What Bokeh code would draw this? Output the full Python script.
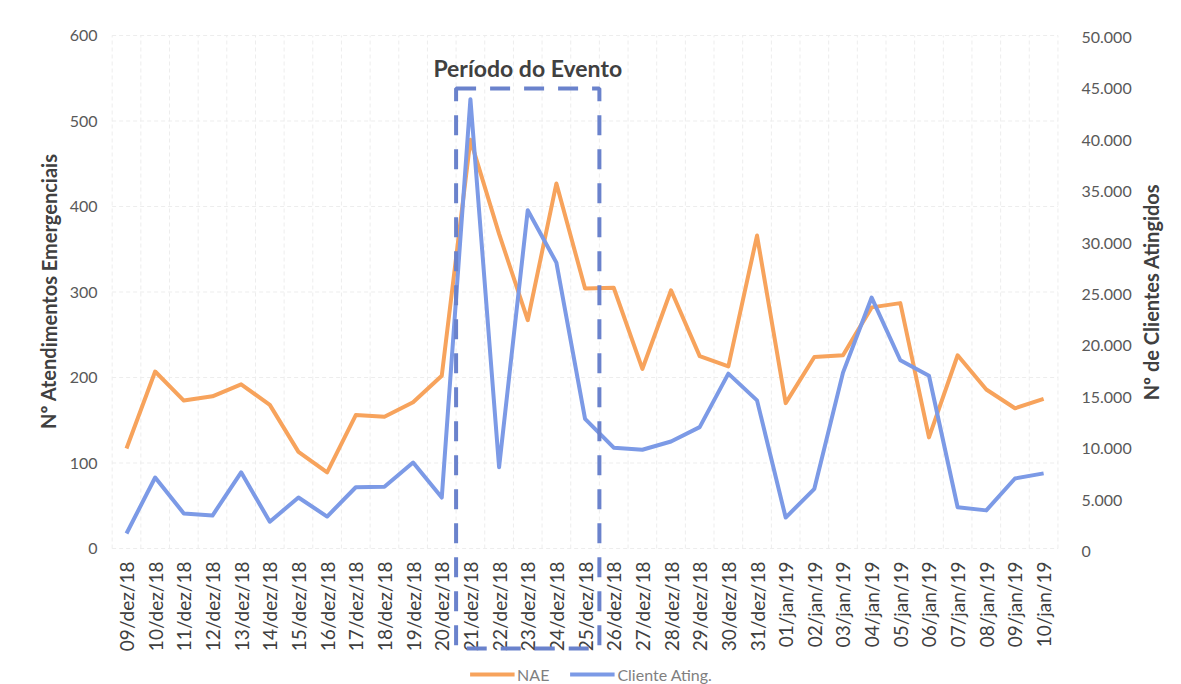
from bokeh.plotting import figure
from bokeh.models import (Range1d, LinearAxis, FixedTicker, Label, PolyAnnotation,
                          Legend, LegendItem)
from bokeh.embed import file_html
from bokeh.resources import INLINE

dates = ["09/dez/18", "10/dez/18", "11/dez/18", "12/dez/18", "13/dez/18", "14/dez/18",
         "15/dez/18", "16/dez/18", "17/dez/18", "18/dez/18", "19/dez/18", "20/dez/18",
         "21/dez/18", "22/dez/18", "23/dez/18", "24/dez/18", "25/dez/18", "26/dez/18",
         "27/dez/18", "28/dez/18", "29/dez/18", "30/dez/18", "31/dez/18", "01/jan/19",
         "02/jan/19", "03/jan/19", "04/jan/19", "05/jan/19", "06/jan/19", "07/jan/19",
         "08/jan/19", "09/jan/19", "10/jan/19"]
nae = [117, 207, 173, 178, 192, 168, 113, 89, 156, 154, 171, 202,
       478, 368, 267, 427, 304, 305, 210, 302, 225, 213, 366, 170,
       224, 226, 282, 287, 130, 226, 186, 164, 175]
clientes = [1750, 7200, 3700, 3500, 7700, 2900, 5250, 3400, 6250, 6300, 8650, 5250,
            44000, 8200, 33200, 28100, 12900, 10100, 9900, 10700, 12100, 17300, 14700, 3300,
            6100, 17400, 24700, 18600, 17100, 4300, 4000, 7100, 7600]
left_ticks = [0, 100, 200, 300, 400, 500, 600]
right_ticks = [0, 5000, 10000, 15000, 20000, 25000, 30000, 35000, 40000, 45000, 50000]
event_start, event_end = "21/dez/18", "25/dez/18"

FONT = "Lato"
n = len(dates)
x = list(range(n))
W, H = 1181, 684

# The frame covers the whole canvas; ranges are chosen so the data area sits
# where the reference has it, and the axes use negative standoffs.
XSC = 28.66                 # px per category
XL = -126 / XSC
XR = XL + W / XSC
YSC = 0.855                 # px per unit, left axis (0 at y=548)
YT, YB = 600 + 35 / YSC, -(H - 548) / YSC
RSC = 514 / 50000           # px per unit, right axis (0 at y=551)
RT, RB = 50000 + 37 / RSC, -(H - 551) / RSC

p = figure(width=W, height=H, output_backend="svg", toolbar_location=None,
           x_range=Range1d(XL, XR), y_range=Range1d(YB, YT),
           min_border_left=0, min_border_right=0, min_border_top=0,
           min_border_bottom=0)
p.extra_y_ranges = {"cli": Range1d(RB, RT)}
p.outline_line_color = None
p.background_fill_color = "white"
p.border_fill_color = "white"
p.xgrid.visible = False
p.ygrid.visible = False

# faint grid inside the data area
bounds = [i - 0.5 for i in range(n + 1)]
p.segment(x0=bounds, x1=bounds, y0=[0] * len(bounds), y1=[600] * len(bounds),
          line_color="#ededed", line_width=1, line_dash="4 3")
p.segment(x0=[-0.5] * len(left_ticks), x1=[n - 0.5] * len(left_ticks),
          y0=left_ticks, y1=left_ticks, line_color="#ededed", line_width=1,
          line_dash="4 3")

# x axis
xa = p.xaxis[0]
xa.ticker = FixedTicker(ticks=x)
xa.major_label_overrides = {i: d for i, d in enumerate(dates)}
xa.major_label_orientation = 1.5707963
xa.major_label_text_font = FONT
xa.major_label_text_font_size = "19px"
xa.major_label_text_color = "#404040"
xa.major_label_standoff = -129
xa.axis_line_color = None
xa.major_tick_line_color = None
xa.minor_tick_line_color = None

# left axis
ya = p.yaxis[0]
ya.ticker = FixedTicker(ticks=left_ticks)
ya.major_label_text_font = FONT
ya.major_label_text_font_size = "16px"
ya.major_label_text_color = "#595959"
ya.major_label_standoff = -103
ya.axis_line_color = None
ya.major_tick_line_color = None
ya.minor_tick_line_color = None

# right axis
ra = LinearAxis(y_range_name="cli")
ra.ticker = FixedTicker(ticks=right_ticks)
ra.major_label_overrides = {v: f"{v:,}".replace(",", ".") for v in right_ticks}
ra.major_label_text_font = FONT
ra.major_label_text_font_size = "16px"
ra.major_label_text_color = "#595959"
ra.major_label_standoff = -106
ra.axis_line_color = None
ra.major_tick_line_color = None
ra.minor_tick_line_color = None
p.add_layout(ra, "right")

r_nae = p.line(x, nae, line_color="#f7a35c", line_width=4, line_join="round")
r_cli = p.line(x, clientes, y_range_name="cli", line_color="#7c9ae6", line_width=4,
               line_join="round")

# event box
i0 = dates.index(event_start) - 0.5
i1 = dates.index(event_end) + 0.5
box = PolyAnnotation(xs=[i0, i1, i1, i0], ys=[538, 538, -117, -117],
                     fill_alpha=0, line_color="#6a82cc", line_alpha=1.0,
                     line_width=4, line_dash="20 14")
p.add_layout(box)

p.add_layout(Label(x=(i0 + i1) / 2, y=562, text="Período do Evento",
                   text_font=FONT, text_font_style="bold", text_font_size="23px",
                   text_color="#404040", text_align="center", text_baseline="middle"))

p.add_layout(Label(x=(48 - 126) / XSC, y=301, text="Nº Atendimentos Emergenciais",
                   angle=1.5707963, text_font=FONT, text_font_style="bold",
                   text_font_size="20px", text_color="#404040", text_align="center",
                   text_baseline="middle"))
p.add_layout(Label(x=(1150 - 126) / XSC, y=300, text="Nº de Clientes Atingidos",
                   angle=1.5707963, text_font=FONT, text_font_style="bold",
                   text_font_size="20px", text_color="#404040", text_align="center",
                   text_baseline="middle"))

legend = Legend(items=[LegendItem(label="NAE", renderers=[r_nae]),
                       LegendItem(label="Cliente Ating.", renderers=[r_cli])],
                orientation="horizontal", location="bottom_center",
                label_text_font=FONT, label_text_font_size="16px",
                label_text_color="#7f7f7f", glyph_width=45, spacing=20,
                border_line_color=None, background_fill_alpha=0,
                padding=2, margin=0, label_standoff=3)
p.add_layout(legend)

open("out.html", "w").write(file_html(p, INLINE))
